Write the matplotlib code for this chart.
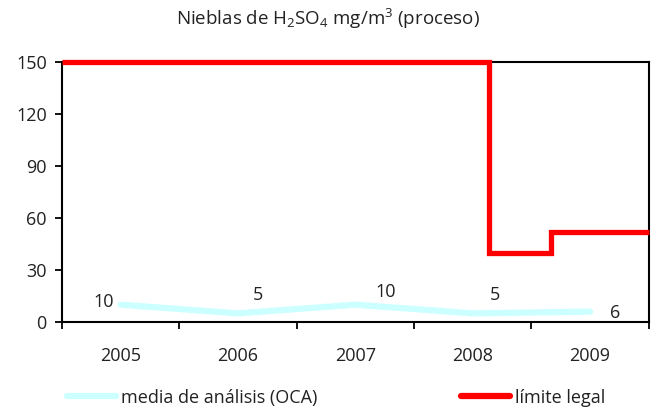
import matplotlib
matplotlib.use("Agg")
import matplotlib.pyplot as plt
from matplotlib.lines import Line2D

plt.rcParams['font.family'] = ['Open Sans', 'DejaVu Sans']
plt.rcParams['mathtext.fontset'] = 'custom'
plt.rcParams['mathtext.rm'] = 'Open Sans'
plt.rcParams['mathtext.it'] = 'Open Sans'

years = ["2005", "2006", "2007", "2008", "2009"]
media_oca = [10, 5, 10, 5, 6]
# legal limit as a step line, x in category units (0 = 2005)
limite_x = [-0.5, 3.14, 3.14, 3.67, 3.67, 4.5]
limite_y = [150, 150, 40, 40, 52, 52]
label_offsets = [(-12, 2), (14, 13), (22, 9), (16, 13), (18, -1)]

cyan = "#CCFFFF"
red = "#FF0000"
fs = 13

fig = plt.figure(figsize=(6.56, 4.12), dpi=100)
ax = fig.add_axes([0.0945, 0.2184, 0.8945, 0.6311])

xs = list(range(len(years)))
ax.plot(xs, media_oca, color=cyan, lw=4.5, solid_capstyle="round", zorder=2)
ax.plot(limite_x, limite_y, color=red, lw=3.8, solid_joinstyle="miter",
        solid_capstyle="butt", clip_on=False, zorder=3)

for x, v, off in zip(xs, media_oca, label_offsets):
    ax.annotate(str(v), (x, v), xytext=off, textcoords="offset points",
                ha="center", va="center", fontsize=fs, color="#222222")

ax.set_xlim(-0.5, 4.5)
ax.set_ylim(0, 150)
ax.set_yticks(range(0, 151, 30))
ax.set_xticks(xs)
ax.set_xticklabels(years)
ax.set_xticks([i - 0.5 for i in range(len(years) + 1)], minor=True)
ax.tick_params(axis="x", which="major", length=0, pad=18, labelsize=fs, colors="#222222")
ax.tick_params(axis="x", which="minor", length=5, width=1.3, direction="out")
ax.tick_params(axis="y", length=5, width=1.3, pad=6, labelsize=fs, colors="#222222")
ax.tick_params(axis="both", color="black")
for s in ax.spines.values():
    s.set_linewidth(1.5)
    s.set_color("black")

fig.text(0.5, 0.955, r"Nieblas de H$_2$SO$_4$ mg/m$^3$ (proceso)", ha="center",
         va="center", fontsize=13.5, color="#222222")

handles = [Line2D([], [], color=cyan, lw=4.5, solid_capstyle="round"),
           Line2D([], [], color=red, lw=4.5, solid_capstyle="round")]
fig.legend(handles, ["media de análisis (OCA)", "límite legal"], loc="center left",
           bbox_to_anchor=(0.077, 0.035), ncol=2, frameon=False, fontsize=fs,
           handlelength=2.7, handletextpad=0.3, columnspacing=7.95,
           labelcolor="#222222")

fig.savefig("out.png", dpi=100)
